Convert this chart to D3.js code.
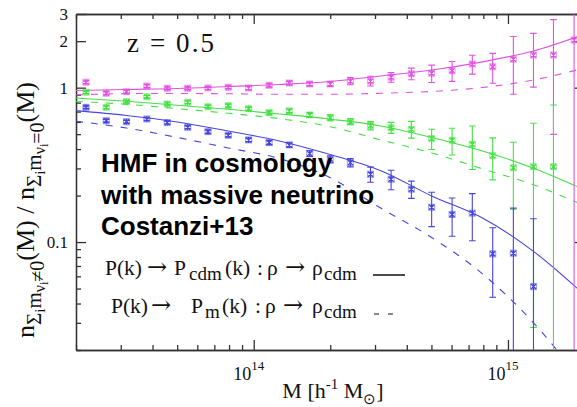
<!DOCTYPE html>
<html>
<head>
<meta charset="utf-8">
<script src="https://cdn.jsdelivr.net/npm/d3@7"></script>
<style>
  body { margin: 0; background: #fff; }
  svg { display: block; }
  .axis path, .axis line { stroke: #333; stroke-width: 1.3; }
</style>
</head>
<body>
<svg id="chart" width="577" height="407"></svg>
<script>
// halo mass bins (h^-1 Msun) of the simulation points
const massBins = [2.19e13, 2.63e13, 3.16e13, 3.80e13, 4.57e13, 5.50e13, 6.61e13, 7.94e13, 9.55e13,
  1.15e14, 1.38e14, 1.66e14, 2.00e14, 2.40e14, 2.88e14, 3.47e14, 4.17e14, 5.01e14, 6.03e14,
  7.24e14, 8.71e14, 1.05e15, 1.26e15, 1.51e15, 1.82e15];

// ratio measured in the simulations + errors
const magentaPts = [1.084, 0.920, 0.942, 1.025, 0.991, 0.991, 0.996, 1.006, 0.996, 1.036, 1.072, 1.057,
  1.057, 1.105, 1.105, 1.168, 1.232, 1.240, 1.288, 1.423, 1.367, 1.527, 1.628, 1.628, 2.035];
const magentaErr = [0.02, 0.02, 0.02, 0.02, 0.02, 0.02, 0.02, 0.02, 0.025, 0.025, 0.03, 0.03,
  0.04, 0.06, 0.08, 0.083, 0.107, 0.16, 0.19, 0.2, 0.3, 0.62, 0.62, 1.13, 2.5];

const greenPts = [0.934, 0.746, 0.812, 0.874, 0.784, 0.804, 0.753, 0.765, 0.731, 0.689, 0.707, 0.666,
  0.639, 0.602, 0.568, 0.551, 0.538, 0.468, 0.456, 0.430, 0.363, 0.303, 0.308, 0.308, null];
const greenErr = [0.015, 0.015, 0.015, 0.015, 0.015, 0.015, 0.015, 0.017, 0.017, 0.02, 0.02, 0.025,
  0.029, 0.027, 0.035, 0.045, 0.067, 0.07, 0.09, 0.135, 0.11, 0.14, 0.28, 0.465, null];

const bluePts = [0.746, 0.611, 0.602, 0.627, 0.594, 0.554, 0.519, 0.492, 0.459, 0.441, 0.426, 0.374,
  0.344, 0.327, 0.275, 0.255, 0.220, 0.168, 0.151, 0.154, 0.0839, 0.0848, 0.0515, null, null];
const blueErr = [0.012, 0.012, 0.012, 0.012, 0.012, 0.012, 0.012, 0.012, 0.012, 0.013, 0.014, 0.016,
  0.018, 0.02, 0.031, 0.037, 0.028, 0.042, 0.042, 0.052, 0.04, 0.081, 0.09, null, null];

// model curves (solid: P_cdm, dashed: P_m)
const modelMass = [2.0e13, 3.16e13, 5.01e13, 7.94e13, 1.26e14, 2.0e14, 3.16e14, 5.01e14, 7.94e14, 1.26e15, 2.0e15];
const magentaSolid = [0.959, 0.974, 0.988, 1.018, 1.049, 1.097, 1.19, 1.30, 1.47, 1.73, 2.22];
const magentaDash = [0.897, 0.915, 0.917, 0.913, 0.906, 0.906, 0.920, 0.945, 1.003, 1.122, 1.341];
const greenSolid = [0.858, 0.817, 0.769, 0.725, 0.676, 0.625, 0.565, 0.476, 0.389, 0.301, 0.218];
const greenDash = [0.814, 0.781, 0.731, 0.683, 0.630, 0.559, 0.459, 0.378, 0.298, 0.235, 0.172];
const blueSolid = [0.710, 0.661, 0.600, 0.524, 0.452, 0.369, 0.29, 0.199, 0.143, 0.0871, 0.0455];
const blueDash = [0.606, 0.548, 0.476, 0.407, 0.348, 0.261, 0.166, 0.107, 0.0623, 0.030, 0.0119];

const xMajor = [1e14, 1e15];
const yLabels = [3, 2, 1, 0.1];

const colors = { magenta: "#e052e0", green: "#44e044", blue: "#4646dc" };

const svg = d3.select("#chart");
const plotLeft = 76, plotRight = 584.5, plotTop = 14, plotBottom = 350;

const x = d3.scaleLog().domain([2e13, 2e15]).range([plotLeft, plotRight]);
const y = d3.scaleLog().domain([0.02, 3]).range([plotBottom, plotTop]);

// minor tick lists
const xMinor = [];
[1e13, 1e14, 1e15].forEach(d => { for (let k = 2; k <= 9; k++) if (d * k >= 2e13 && d * k <= 2e15) xMinor.push(d * k); });
const yMinor = [];
[0.01, 0.1, 1].forEach(d => { for (let k = 2; k <= 9; k++) if (d * k >= 0.02 && d * k < 2) yMinor.push(d * k); });

// axes, ticks point inward
function addAxis(axis, transform) {
  svg.append("g").attr("class", "axis").attr("transform", transform).call(axis)
    .call(g => g.selectAll("text").remove());
}
addAxis(d3.axisTop(x).tickValues(xMajor).tickSize(10).tickSizeOuter(0), `translate(0,${plotBottom})`);
addAxis(d3.axisTop(x).tickValues(xMinor).tickSize(5).tickSizeOuter(0), `translate(0,${plotBottom})`);
addAxis(d3.axisBottom(x).tickValues(xMajor).tickSize(10).tickSizeOuter(0), `translate(0,${plotTop})`);
addAxis(d3.axisBottom(x).tickValues(xMinor).tickSize(5).tickSizeOuter(0), `translate(0,${plotTop})`);
addAxis(d3.axisRight(y).tickValues(yLabels).tickSize(10).tickSizeOuter(0), `translate(${plotLeft},0)`);
addAxis(d3.axisRight(y).tickValues(yMinor).tickSize(5).tickSizeOuter(0), `translate(${plotLeft},0)`);
addAxis(d3.axisLeft(y).tickValues(yLabels).tickSize(10).tickSizeOuter(0), `translate(${plotRight},0)`);
addAxis(d3.axisLeft(y).tickValues(yMinor).tickSize(5).tickSizeOuter(0), `translate(${plotRight},0)`);

const serif = "'Liberation Serif', 'Times New Roman', serif";

// x tick labels 10^n
xMajor.forEach(v => {
  const t = svg.append("text").attr("x", x(v) - 5).attr("y", 380)
    .attr("text-anchor", "middle").attr("font-family", serif).attr("font-size", 18).attr("fill", "#111");
  t.append("tspan").text("10");
  t.append("tspan").attr("dy", -10).attr("font-size", 13).text(Math.round(Math.log10(v)));
});

// y tick labels
svg.selectAll(".ylab").data(yLabels).join("text")
  .attr("x", 68).attr("y", d => y(d) + 6)
  .attr("text-anchor", "end").attr("font-family", serif).attr("font-size", 17).attr("fill", "#111")
  .text(d => d);

// plot content clipped to the frame
svg.append("clipPath").attr("id", "clip").append("rect")
  .attr("x", plotLeft).attr("y", plotTop).attr("width", plotRight - plotLeft).attr("height", plotBottom - plotTop);
const plot = svg.append("g").attr("clip-path", "url(#clip)");

const line = d3.line().x(d => x(d[0])).y(d => y(d[1])).curve(d3.curveMonotoneX);

const models = [
  [magentaSolid, colors.magenta, null], [magentaDash, colors.magenta, "7,8"],
  [greenSolid, colors.green, null], [greenDash, colors.green, "7,8"],
  [blueSolid, colors.blue, null], [blueDash, colors.blue, "7,8"]
];
models.forEach(([vals, c, dash]) => {
  plot.append("path").datum(modelMass.map((m, i) => [m, vals[i]]))
    .attr("d", line).attr("fill", "none").attr("stroke", c).attr("stroke-width", 1.1)
    .attr("stroke-dasharray", dash);
});

const series = [
  [magentaPts, magentaErr, colors.magenta],
  [greenPts, greenErr, colors.green],
  [bluePts, blueErr, colors.blue]
];
series.forEach(([vals, errs, c]) => {
  const pts = massBins.map((m, i) => ({ m, v: vals[i], e: errs[i] })).filter(d => d.v != null);
  const g = plot.append("g").attr("stroke", c).attr("fill", "none").attr("stroke-width", 1.1);
  pts.forEach(d => {
    const px = x(d.m);
    const hi = y(Math.min(d.v + d.e, 10));
    const lo = d.v - d.e > 0.005 ? y(d.v - d.e) : plotBottom + 5;
    g.append("line").attr("x1", px).attr("x2", px).attr("y1", hi).attr("y2", lo);
    g.append("line").attr("x1", px - 3.3).attr("x2", px + 3.3).attr("y1", hi).attr("y2", hi);
    g.append("line").attr("x1", px - 3.3).attr("x2", px + 3.3).attr("y1", lo).attr("y2", lo);
    const py = y(d.v);
    g.append("rect").attr("x", px - 3).attr("y", py - 3).attr("width", 6).attr("height", 6)
      .attr("stroke-opacity", 0.5);
    g.append("path").attr("stroke-width", 1.4)
      .attr("d", `M${px - 2.5},${py - 2.5}L${px + 2.5},${py + 2.5}M${px - 2.5},${py + 2.5}L${px + 2.5},${py - 2.5}M${px},${py - 3}V${py + 3}`);
  });
});

// z label
svg.append("text").attr("x", 127).attr("y", 52).attr("font-family", serif).attr("font-size", 27)
  .attr("textLength", 87).attr("lengthAdjust", "spacing").attr("fill", "#111").text("z = 0.5");

// bold annotation
const note = ["HMF in cosmology", "with massive neutrino", "Costanzi+13"];
svg.selectAll(".note").data(note).join("text")
  .attr("x", 101).attr("y", (d, i) => 172 + i * 31.5)
  .attr("font-family", "'Liberation Sans', Arial, sans-serif").attr("font-weight", "bold")
  .attr("font-size", 26).attr("fill", "#000").text(d => d);

// legend: pieces [text, x, kind]
function legendRow(yp, parts) {
  const t = svg.append("text").attr("y", yp).attr("font-family", serif)
    .attr("font-size", 21.5).attr("fill", "#111");
  parts.forEach(([s, xp, kind]) => {
    const sp = t.append("tspan").attr("x", xp).attr("y", kind === "sub" ? yp + 5 : yp).text(s);
    if (kind === "sub") sp.attr("font-size", 19);
    if (kind === "arrow") sp.attr("font-family", "'DejaVu Serif', serif").attr("font-size", 24);
  });
}
legendRow(275, [["P(k)", 105], ["\u2192", 147, "arrow"], ["P", 174], ["cdm", 189, "sub"], ["(k)", 225],
  [":", 257], ["\u03c1", 267], ["\u2192", 285, "arrow"], ["\u03c1", 312], ["cdm", 324, "sub"]]);
legendRow(313, [["P(k)", 111], ["\u2192", 151, "arrow"], ["P", 191], ["m", 205, "sub"], ["(k)", 222],
  [":", 255], ["\u03c1", 265], ["\u2192", 283, "arrow"], ["\u03c1", 312], ["cdm", 324, "sub"]]);
svg.append("line").attr("x1", 373).attr("x2", 405).attr("y1", 275).attr("y2", 275)
  .attr("stroke", "#111").attr("stroke-width", 1.5);
svg.append("line").attr("x1", 374).attr("x2", 398).attr("y1", 314).attr("y2", 314)
  .attr("stroke", "#111").attr("stroke-width", 1).attr("stroke-dasharray", "5,9");

// x title
const xt = svg.append("text").attr("x", 333).attr("y", 398).attr("text-anchor", "middle")
  .attr("font-family", serif).attr("font-size", 22).attr("fill", "#111");
xt.append("tspan").text("M [h");
xt.append("tspan").attr("dy", -9).attr("font-size", 15).text("-1");
xt.append("tspan").attr("dy", 9).text(" M");
xt.append("tspan").attr("dy", 6).attr("font-size", 15).text("\u2299");
xt.append("tspan").attr("dy", -6).text("]");

// y title, rotated
const yt = svg.append("text").attr("transform", "translate(34,210) rotate(-90)")
  .attr("text-anchor", "middle").attr("font-family", serif).attr("font-size", 26).attr("fill", "#111");
function nSub(rel) {
  yt.append("tspan").text("n");
  yt.append("tspan").attr("dy", 7).attr("font-size", 21).text("\u03a3");
  yt.append("tspan").attr("dy", 4).attr("font-size", 15).text("i");
  yt.append("tspan").attr("dy", -4).attr("font-size", 21).text("m");
  yt.append("tspan").attr("dy", 4).attr("font-size", 16).text("\u03bd");
  yt.append("tspan").attr("dy", 3).attr("font-size", 12).text("i");
  yt.append("tspan").attr("dy", -4).attr("font-size", 20).text(rel + "0");
  yt.append("tspan").attr("dy", -10).text("(M)");
}
nSub("\u2260");
yt.append("tspan").text(" / ");
nSub("=");
</script>
</body>
</html>
